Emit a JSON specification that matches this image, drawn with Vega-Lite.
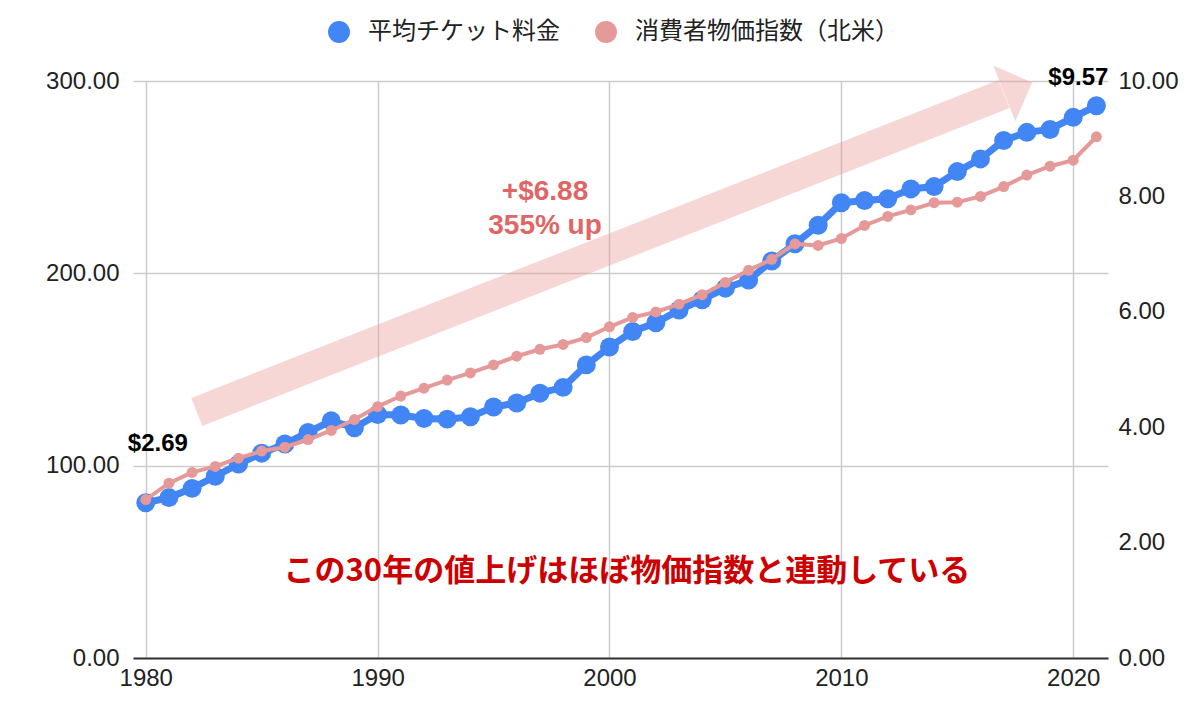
{
  "$schema": "https://vega.github.io/schema/vega-lite/v6.json",
  "width": 975,
  "height": 577,
  "autosize": {"type": "none"},
  "padding": {"left": 133, "top": 81, "right": 92, "bottom": 63},
  "background": "white",
  "config": {
    "view": {"stroke": null},
    "font": "Liberation Sans",
    "axis": {"labelFont": "Liberation Sans", "labelFontSize": 24, "labelColor": "#222", "ticks": false, "title": null}
  },
  "datasets": {
    "films": [
      {"year": 1980, "price": 2.69, "cpi": 82.4},
      {"year": 1981, "price": 2.78, "cpi": 90.9},
      {"year": 1982, "price": 2.94, "cpi": 96.5},
      {"year": 1983, "price": 3.15, "cpi": 99.6},
      {"year": 1984, "price": 3.36, "cpi": 103.9},
      {"year": 1985, "price": 3.55, "cpi": 107.6},
      {"year": 1986, "price": 3.71, "cpi": 109.6},
      {"year": 1987, "price": 3.91, "cpi": 113.6},
      {"year": 1988, "price": 4.11, "cpi": 118.3},
      {"year": 1989, "price": 3.99, "cpi": 124.0},
      {"year": 1990, "price": 4.22, "cpi": 130.7},
      {"year": 1991, "price": 4.21, "cpi": 136.2},
      {"year": 1992, "price": 4.15, "cpi": 140.3},
      {"year": 1993, "price": 4.14, "cpi": 144.5},
      {"year": 1994, "price": 4.18, "cpi": 148.2},
      {"year": 1995, "price": 4.35, "cpi": 152.4},
      {"year": 1996, "price": 4.42, "cpi": 156.9},
      {"year": 1997, "price": 4.59, "cpi": 160.5},
      {"year": 1998, "price": 4.69, "cpi": 163.0},
      {"year": 1999, "price": 5.08, "cpi": 166.6},
      {"year": 2000, "price": 5.39, "cpi": 172.2},
      {"year": 2001, "price": 5.66, "cpi": 177.1},
      {"year": 2002, "price": 5.81, "cpi": 179.9},
      {"year": 2003, "price": 6.03, "cpi": 184.0},
      {"year": 2004, "price": 6.21, "cpi": 188.9},
      {"year": 2005, "price": 6.41, "cpi": 195.3},
      {"year": 2006, "price": 6.55, "cpi": 201.6},
      {"year": 2007, "price": 6.88, "cpi": 207.3},
      {"year": 2008, "price": 7.18, "cpi": 215.3},
      {"year": 2009, "price": 7.50, "cpi": 214.5},
      {"year": 2010, "price": 7.89, "cpi": 218.1},
      {"year": 2011, "price": 7.93, "cpi": 224.9},
      {"year": 2012, "price": 7.96, "cpi": 229.6},
      {"year": 2013, "price": 8.13, "cpi": 233.0},
      {"year": 2014, "price": 8.17, "cpi": 236.7},
      {"year": 2015, "price": 8.43, "cpi": 237.0},
      {"year": 2016, "price": 8.65, "cpi": 240.0},
      {"year": 2017, "price": 8.97, "cpi": 245.1},
      {"year": 2018, "price": 9.11, "cpi": 251.1},
      {"year": 2019, "price": 9.16, "cpi": 255.7},
      {"year": 2020, "price": 9.37, "cpi": 258.8},
      {"year": 2021, "price": 9.57, "cpi": 271.0}
    ]
  },
  "data": {"name": "films"},
  "encoding": {
    "x": {
      "field": "year",
      "type": "quantitative",
      "scale": {"domain": [1979.45, 2021.5], "nice": false, "zero": false},
      "axis": {
        "values": [1980, 1990, 2000, 2010, 2020],
        "format": "d",
        "grid": true,
        "gridColor": "#cccccc",
        "gridWidth": 1.5,
        "domainColor": "#333333",
        "domainWidth": 2,
        "labelPadding": 8
      }
    }
  },
  "layer": [
    {
      "encoding": {
        "y": {
          "field": "price",
          "type": "quantitative",
          "scale": {"domain": [0, 10], "nice": false},
          "axis": {
            "orient": "right",
            "values": [0, 2, 4, 6, 8, 10],
            "format": ".2f",
            "grid": false,
            "domain": false,
            "labelPadding": 10
          }
        }
      },
      "layer": [
        {"mark": {"type": "line", "color": "#4285f4", "strokeWidth": 7}},
        {
          "mark": {"type": "point", "filled": true, "opacity": 1, "size": 360, "strokeWidth": 0},
          "encoding": {
            "color": {
              "datum": "平均チケット料金",
              "type": "nominal",
              "scale": {
                "domain": ["平均チケット料金", "消費者物価指数（北米）"],
                "range": ["#4285f4", "#e69999"]
              },
              "legend": {
                "orient": "none",
                "legendX": 194,
                "legendY": -61,
                "direction": "horizontal",
                "title": null,
                "symbolType": "circle",
                "symbolSize": 480,
                "symbolStrokeWidth": 0,
                "labelFont": "Noto Sans CJK JP",
                "labelFontSize": 24,
                "labelColor": "#222",
                "labelOffset": 17,
                "labelLimit": 400,
                "columnPadding": 34
              }
            }
          }
        },
        {
          "data": {"values": [
            {"year": 1980.52, "price": 3.71, "label": "$2.69"},
            {"year": 2020.22, "price": 10.05, "label": "$9.57"}
          ]},
          "mark": {"type": "text", "fontSize": 24, "fontWeight": "bold", "color": "#000000", "baseline": "middle", "align": "center"},
          "encoding": {"text": {"field": "label"}}
        }
      ]
    },
    {
      "encoding": {
        "y": {
          "field": "cpi",
          "type": "quantitative",
          "scale": {"domain": [0, 300], "nice": false},
          "axis": {
            "orient": "left",
            "values": [0, 100, 200, 300],
            "format": ".2f",
            "grid": true,
            "gridColor": "#cccccc",
            "gridWidth": 1.5,
            "domain": false,
            "labelPadding": 14
          }
        }
      },
      "layer": [
        {
          "data": {"values": [
            {"year": 1982.2, "cpi": 127.9},
            {"year": 2017.02, "cpi": 293.2}
          ]},
          "mark": {"type": "line", "color": "#ea9999", "opacity": 0.4, "strokeWidth": 30, "strokeCap": "butt"}
        },
        {
          "data": {"values": [{"year": 2017.63, "cpi": 296.4}]},
          "mark": {"type": "point", "shape": "M -0.5 -1 L 0.5 0 L -0.5 1 Z", "size": 3600, "angle": 338.45, "filled": true, "color": "#ea9999", "opacity": 0.4, "strokeWidth": 0}
        },
        {
          "data": {"values": [{"year": 1997.22, "cpi": 242.5, "label": "+$6.88\n355% up"}]},
          "mark": {"type": "text", "fontSize": 28, "fontWeight": "bold", "color": "#e06666", "baseline": "middle", "align": "center", "lineBreak": "\n", "lineHeight": 34},
          "encoding": {"text": {"field": "label"}}
        },
        {
          "data": {"values": [{"year": 2000.75, "cpi": 44.7, "label": "この30年の値上げはほぼ物価指数と連動している"}]},
          "mark": {"type": "text", "font": "Noto Sans CJK JP", "fontSize": 31, "fontWeight": "bold", "color": "#cc0000", "baseline": "middle", "align": "center"},
          "encoding": {"text": {"field": "label"}}
        },
        {"mark": {"type": "line", "color": "#e69999", "strokeWidth": 4}},
        {
          "mark": {"type": "point", "filled": true, "opacity": 1, "size": 120, "strokeWidth": 0},
          "encoding": {"color": {"datum": "消費者物価指数（北米）", "type": "nominal"}}
        }
      ]
    }
  ],
  "resolve": {"scale": {"y": "independent"}}
}
